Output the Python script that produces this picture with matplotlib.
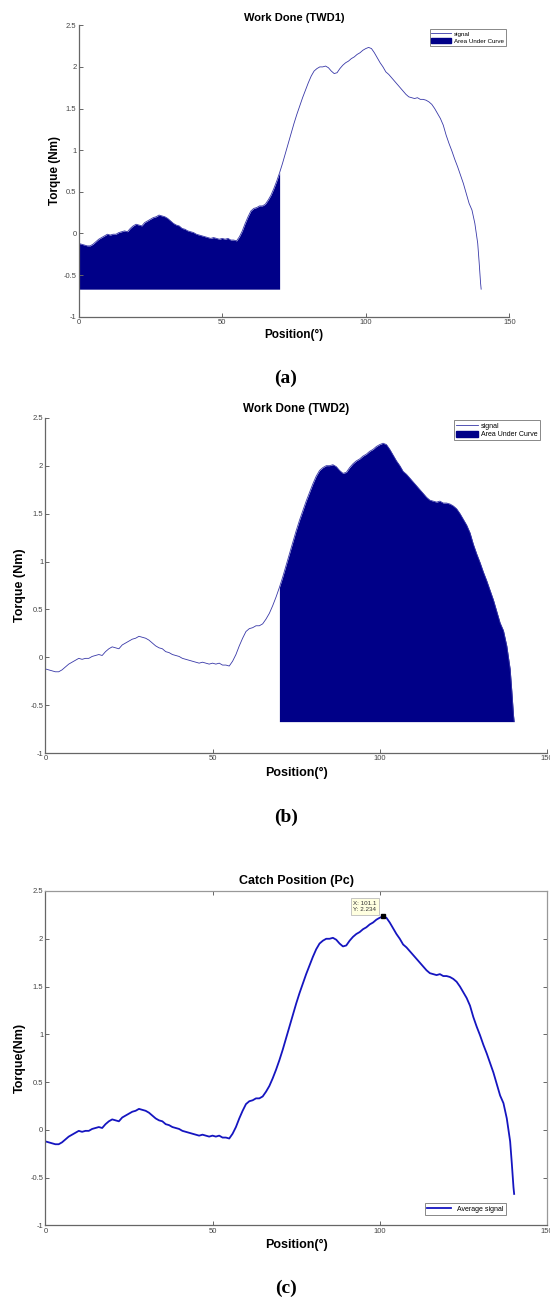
import numpy as np
import matplotlib
matplotlib.use("Agg")
import matplotlib.pyplot as plt
from matplotlib.patches import Patch
from matplotlib.lines import Line2D

plt.rcParams['font.family'] = ['Liberation Sans', 'DejaVu Sans']

# ==============================
# Data
# ==============================

position = list(range(0, 139)) + [138.5, 139, 139.5, 140, 140.2]

torque = [
    -0.12, -0.13, -0.14, -0.15, -0.15, -0.13, -0.10, -0.07, -0.05, -0.03,
    -0.01, -0.02, -0.01, -0.01, 0.01, 0.02, 0.03, 0.02, 0.06, 0.09,
    0.11, 0.10, 0.09, 0.13, 0.15, 0.17, 0.19, 0.20, 0.22, 0.21,
    0.20, 0.18, 0.15, 0.12, 0.10, 0.09, 0.06, 0.05, 0.03, 0.02,
    0.01, -0.01, -0.02, -0.03, -0.04, -0.05, -0.06, -0.05, -0.06, -0.07,
    -0.06, -0.07, -0.06, -0.08, -0.08, -0.09, -0.04, 0.03, 0.12, 0.20,
    0.27, 0.30, 0.31, 0.33, 0.33, 0.35, 0.40, 0.46, 0.54, 0.63,
    0.73, 0.84, 0.96, 1.08, 1.20, 1.32, 1.43, 1.53, 1.63, 1.72,
    1.81, 1.89, 1.95, 1.98, 2.00, 2.00, 2.01, 1.99, 1.95, 1.92,
    1.93, 1.98, 2.02, 2.05, 2.07, 2.10, 2.12, 2.15, 2.17, 2.20,
    2.22, 2.234, 2.22, 2.17, 2.11, 2.05, 2.00, 1.94, 1.91, 1.87,
    1.83, 1.79, 1.75, 1.71, 1.67, 1.64, 1.63, 1.62, 1.63, 1.61,
    1.61, 1.60, 1.58, 1.55, 1.50, 1.44, 1.38, 1.30, 1.18, 1.08,
    0.99, 0.89, 0.80, 0.70, 0.60, 0.48, 0.36, 0.28, 0.12,
    0.00, -0.12, -0.35, -0.60, -0.67,
]

split_position = 70
catch_x = 101.1
catch_y = 2.234

x_ticks = [0, 50, 100, 150]
y_ticks = [-1, -0.5, 0, 0.5, 1, 1.5, 2, 2.5]
y_tick_labels = ['-1', '-0.5', '0', '0.5', '1', '1.5', '2', '2.5']

x = np.array(position)
y = np.array(torque)
base = y.min()

fill_color = '#000088'
thin_color = '#3838a8'
spine_color = '#666666'


def style_axes(ax, box=False, tick_size=5.5):
    ax.set_xlim(0, 150)
    ax.set_ylim(-1, 2.5)
    ax.set_xticks(x_ticks)
    ax.set_yticks(y_ticks)
    ax.set_yticklabels(y_tick_labels)
    ax.tick_params(direction='in', length=3, width=0.7, labelsize=tick_size,
                   colors=spine_color, labelcolor='#444444', pad=1.5,
                   top=box, right=box)
    for side in ['left', 'bottom']:
        ax.spines[side].set_color(spine_color)
        ax.spines[side].set_linewidth(0.9)
    for side in ['top', 'right']:
        ax.spines[side].set_visible(box)
        ax.spines[side].set_color('#999999')
        ax.spines[side].set_linewidth(0.9)


fig = plt.figure(figsize=(5.5, 13.03), dpi=100)

# ==============================
# (a) Work Done (TWD1)
# ==============================

ax1 = fig.add_axes([0.143, 0.757, 0.783, 0.2236])
ax1.plot(x, y, color=thin_color, linewidth=0.6)
m1 = x <= split_position
ax1.fill_between(x[m1], y[m1], base, color=fill_color, linewidth=0)
style_axes(ax1)
ax1.set_title('Work Done (TWD1)', fontsize=8, fontweight='bold', pad=3)
ax1.set_xlabel('Position(°)', fontsize=8.5, fontweight='bold', labelpad=2)
ax1.set_ylabel('Torque (Nm)', fontsize=8.5, fontweight='bold', labelpad=2)

handles = [Line2D([], [], color=thin_color, linewidth=0.6),
           Patch(facecolor=fill_color, edgecolor=fill_color)]
labels = ['signal', 'Area Under Curve']
leg = ax1.legend(handles, labels, loc='upper right', bbox_to_anchor=(0.992, 0.987),
                 fontsize=4.5, fancybox=False, edgecolor='#888888', framealpha=1,
                 borderaxespad=0, borderpad=0.3, labelspacing=0.15,
                 handlelength=3.2, handletextpad=0.4, handleheight=1.0)
leg.get_frame().set_linewidth(0.7)

fig.text(0.52, 1 - 378 / 1303, '(a)', ha='center', va='center',
         fontsize=14, fontweight='bold', family='Liberation Serif')

# ==============================
# (b) Work Done (TWD2)
# ==============================

ax2 = fig.add_axes([0.0824, 0.4219, 0.912, 0.2575])
ax2.plot(x, y, color=thin_color, linewidth=0.6)
m2 = x >= split_position
ax2.fill_between(x[m2], y[m2], base, color=fill_color, linewidth=0)
style_axes(ax2)
ax2.set_title('Work Done (TWD2)', fontsize=8.5, fontweight='bold', pad=4)
ax2.set_xlabel('Position(°)', fontsize=9, fontweight='bold', labelpad=3)
ax2.set_ylabel('Torque (Nm)', fontsize=9, fontweight='bold', labelpad=3)

leg = ax2.legend(handles, labels, loc='upper right', bbox_to_anchor=(0.986, 0.993),
                 fontsize=5, fancybox=False, edgecolor='#888888', framealpha=1,
                 borderaxespad=0, borderpad=0.3, labelspacing=0.15,
                 handlelength=3.2, handletextpad=0.4, handleheight=1.0)
leg.get_frame().set_linewidth(0.7)

fig.text(0.52, 1 - 817 / 1303, '(b)', ha='center', va='center',
         fontsize=14, fontweight='bold', family='Liberation Serif')

# ==============================
# (c) Catch Position (Pc)
# ==============================

ax3 = fig.add_axes([0.0824, 0.0595, 0.912, 0.2567])
ax3.plot(x, y, color='#1515c0', linewidth=1.3, label='Average signal')
style_axes(ax3, box=True)
ax3.set_title('Catch Position (Pc)', fontsize=9, fontweight='bold', pad=5)
ax3.set_xlabel('Position(°)', fontsize=9, fontweight='bold', labelpad=3)
ax3.set_ylabel('Torque(Nm)', fontsize=9, fontweight='bold', labelpad=3)

ax3.plot([catch_x], [catch_y], marker='s', markersize=3.5, color='black',
         linestyle='none')
ax3.annotate('X: %.1f\nY: %.3f' % (catch_x, catch_y), xy=(catch_x, catch_y),
             xytext=(-5, 3), textcoords='offset points', ha='right', va='bottom',
             fontsize=4.5, color='#333333', linespacing=1.4,
             bbox=dict(boxstyle='square,pad=0.4', facecolor='#ffffe0',
                       edgecolor='#bbbbbb', linewidth=0.6))

leg = ax3.legend(loc='lower right', bbox_to_anchor=(0.918, 0.031),
                 fontsize=5, fancybox=False, edgecolor='#888888', framealpha=1,
                 borderaxespad=0, borderpad=0.35, handlelength=3.5,
                 handletextpad=0.8)
leg.get_frame().set_linewidth(0.7)

fig.text(0.52, 1 - 1288 / 1303, '(c)', ha='center', va='center',
         fontsize=14, fontweight='bold', family='Liberation Serif')

plt.savefig('out.png', dpi=100)
